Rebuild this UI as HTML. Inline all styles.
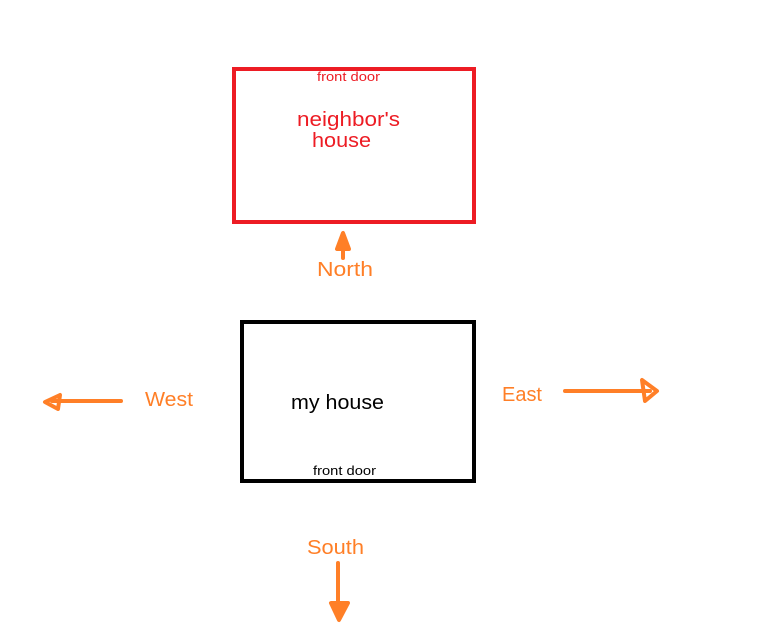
<!DOCTYPE html>
<html><head><style>html,body{margin:0;padding:0;background:#fff}svg{display:block}</style></head>
<body>
<svg width="779" height="626" xmlns="http://www.w3.org/2000/svg" font-family="'Liberation Sans', sans-serif">
<rect x="234" y="69" width="240" height="153" fill="none" stroke="#ed1c24" stroke-width="4"/>
<rect x="242" y="322" width="232" height="159" fill="none" stroke="#000" stroke-width="4"/>
<g fill="#ed1c24">
<text x="317" y="81" font-size="13" textLength="63" lengthAdjust="spacingAndGlyphs">front door</text>
<text x="297" y="126" font-size="20" textLength="103" lengthAdjust="spacingAndGlyphs">neighbor's</text>
<text x="312" y="147" font-size="20" textLength="59" lengthAdjust="spacingAndGlyphs">house</text>
</g>
<text x="291" y="409" font-size="20" textLength="93" lengthAdjust="spacingAndGlyphs">my house</text>
<text x="313" y="475" font-size="13" textLength="63" lengthAdjust="spacingAndGlyphs">front door</text>
<g fill="#ff7f27" font-size="20">
<text x="317" y="276" textLength="56" lengthAdjust="spacingAndGlyphs">North</text>
<text x="145" y="406" textLength="48" lengthAdjust="spacingAndGlyphs">West</text>
<text x="502" y="401" textLength="40" lengthAdjust="spacingAndGlyphs">East</text>
<text x="307" y="554" textLength="57" lengthAdjust="spacingAndGlyphs">South</text>
</g>
<g stroke="#ff7f27" stroke-width="4" stroke-linecap="round" fill="#ff7f27" stroke-linejoin="round">
<line x1="343" y1="258" x2="343" y2="240"/>
<polygon points="343,233 337,249 349,249"/>
<line x1="121" y1="401" x2="52" y2="401"/>
<polygon points="45,402 60,395 58,409" fill="none"/>
<line x1="565" y1="391" x2="650" y2="391"/>
<polygon points="657,391 642,380 645,401" fill="none"/>
<line x1="338" y1="563" x2="338" y2="612"/>
<polygon points="339,620 331,603 348,603"/>
</g>
</svg>
</body></html>
